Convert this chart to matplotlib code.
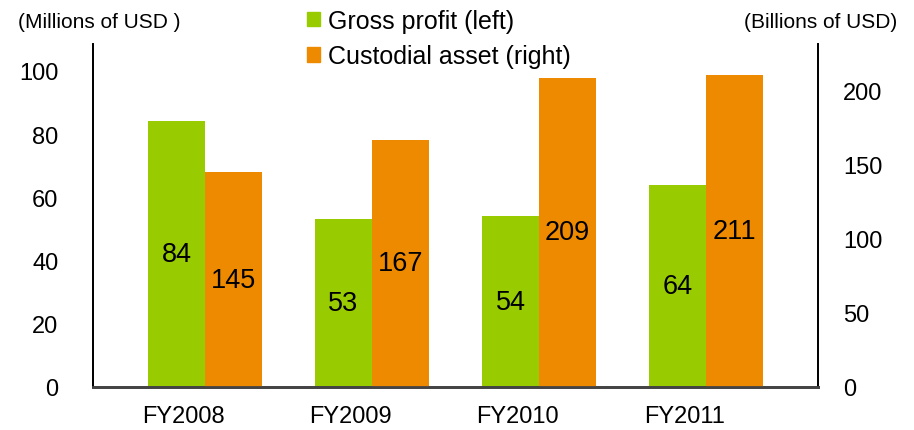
import matplotlib
matplotlib.use('Agg')
import matplotlib.pyplot as plt
from matplotlib.patches import Patch
import numpy as np

years = ['FY2008', 'FY2009', 'FY2010', 'FY2011']
gross_profit = [84, 53, 54, 64]        # millions of USD, left axis
custodial_asset = [145, 167, 209, 211]  # billions of USD, right axis

GREEN = '#99CC00'
ORANGE = '#EE8A00'
plt.rcParams['font.family'] = ['Liberation Sans', 'DejaVu Sans']

fig = plt.figure(figsize=(9.14, 4.31), dpi=100)
ax = fig.add_axes([93 / 914, 43 / 431, 725 / 914, 343 / 431])
ax2 = ax.twinx()

x = np.arange(len(years))
w = 0.34
b1 = ax.bar(x - w / 2, gross_profit, w, color=GREEN, zorder=2)
b2 = ax2.bar(x + w / 2, custodial_asset, w, color=ORANGE, zorder=2)

# value labels centred in each bar
for rect, v in zip(b1, gross_profit):
    ax.text(rect.get_x() + rect.get_width() / 2, v / 2, str(v),
            ha='center', va='center', fontsize=19.5)
for rect, v in zip(b2, custodial_asset):
    ax2.text(rect.get_x() + rect.get_width() / 2, v / 2, str(v),
             ha='center', va='center', fontsize=19.5)

ax.set_xlim(-0.67, 3.67)
ax.set_ylim(0, 108.5)
ax2.set_ylim(0, 231.7)
ax.set_yticks(range(0, 101, 20))
ax2.set_yticks(range(0, 201, 50))

ax.set_xticks(x - 0.13)
ax.set_xticklabels(years)
ax.tick_params(axis='x', length=0, pad=13, labelsize=17)
ax.tick_params(axis='y', length=0, pad=25, labelsize=17)
ax2.tick_params(axis='y', length=0, pad=18, labelsize=17)

for a in (ax, ax2):
    a.spines['top'].set_visible(False)
    a.spines['left'].set_linewidth(1.3)
    a.spines['right'].set_linewidth(1.3)
    a.spines['bottom'].set_linewidth(2.0)
    a.spines['bottom'].set_color('#444444')

fig.text(18 / 914, 1 - 22 / 431, '(Millions of USD )', ha='left', va='center', fontsize=15)
fig.text(897 / 914, 1 - 22 / 431, '(Billions of USD)', ha='right', va='center', fontsize=15)

handles = [Patch(color=GREEN), Patch(color=ORANGE)]
fig.legend(handles, ['Gross profit (left)', 'Custodial asset (right)'],
           loc='upper left', bbox_to_anchor=(307 / 914, 1 - 10 / 431),
           frameon=False, prop={'size': 18},
           handlelength=0.5, handleheight=0.5, handletextpad=0.35,
           labelspacing=0.45, borderpad=0, borderaxespad=0)

fig.savefig('out.png', dpi=100)
